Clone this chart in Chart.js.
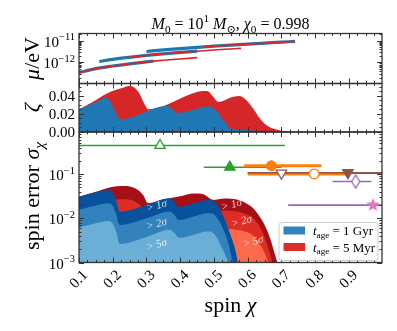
<!DOCTYPE html>
<html><head><meta charset="utf-8">
<script src="https://cdn.jsdelivr.net/npm/chart.js@4.4.1/dist/chart.umd.min.js"></script>
<style>html,body{margin:0;padding:0;background:#fff;}canvas{display:block;}</style>
</head><body>
<canvas id="c" width="397" height="331"></canvas>
<script>
// ---------- DATA ----------
// top panel: boson mass ranges mu(chi) for three modes
const chiA = [0.10,0.15,0.20,0.25,0.30,0.32,0.35,0.40,0.45];
const muA  = [3.47e-13,5.25e-13,6.92e-13,8.71e-13,1.07e-12,1.15e-12,1.26e-12,1.45e-12,1.66e-12];
const chiB = [0.16,0.20,0.24,0.30,0.35,0.40,0.45,0.50,0.55,0.58];
const muB  = [1.11e-12,1.39e-12,1.68e-12,2.12e-12,2.49e-12,2.88e-12,3.28e-12,3.70e-12,4.14e-12,4.42e-12];
const chiC = [0.30,0.35,0.40,0.45,0.47,0.50,0.55,0.60,0.65,0.70,0.74];
const muC  = [3.18e-12,3.74e-12,4.32e-12,4.92e-12,5.16e-12,5.55e-12,6.21e-12,6.90e-12,7.64e-12,8.45e-12,9.16e-12];
const blueRanges = [[0.10,0.32],[0.16,0.45],[0.30,0.74]];   // t_age = 1 Gyr
const redRanges  = [[0.10,0.45],[0.24,0.58],[0.47,0.74]];   // t_age = 5 Myr

// middle panel: zeta(chi)
const zetaChiBlue = [0.10,0.13,0.16,0.177,0.19,0.20,0.21,0.222,0.36,0.37,0.38,0.394,0.44,0.478,0.49,0.50,0.51,0.517,0.53,0.54,0.547,0.57,0.62,0.68,0.72,0.73];
const zetaBlue    = [0.025,0.030,0.0345,0.038,0.035,0.028,0.020,0.0138,0.0286,0.027,0.024,0.021,0.0245,0.028,0.0278,0.026,0.022,0.0186,0.012,0.007,0.004,0.0025,0.0015,0.001,0.0004,0];
const zetaChiRed  = [0.10,0.14,0.177,0.21,0.235,0.246,0.26,0.27,0.28,0.29,0.30,0.305,0.452,0.47,0.482,0.495,0.513,0.557,0.577,0.596,0.616,0.636,0.656,0.675,0.70,0.725];
const zetaRed     = [0.025,0.033,0.0414,0.0465,0.0495,0.0508,0.050,0.047,0.042,0.034,0.027,0.025,0.0444,0.0452,0.045,0.040,0.0333,0.039,0.0397,0.035,0.026,0.0149,0.0074,0.0038,0.0015,0];

// bottom panel: exclusion bands sigma_chi(chi)
const bChi1 = [0.10,0.15,0.187,0.20,0.21,0.221,0.30,0.369,0.38,0.397,0.44,0.48,0.495,0.51,0.522,0.542,0.562,0.572];
const blue1 = [0.0309,0.0389,0.0437,0.0380,0.0251,0.0141,0.0200,0.0285,0.0251,0.0182,0.0219,0.0260,0.0257,0.0200,0.0141,0.00589,0.00209,0.00089];
const bChi2 = [0.10,0.15,0.187,0.20,0.21,0.221,0.30,0.369,0.38,0.397,0.44,0.48,0.495,0.51,0.522,0.542,0.557];
const blue2 = [0.0155,0.0195,0.0219,0.0191,0.0126,0.00708,0.0100,0.0143,0.0126,0.00912,0.0110,0.0130,0.0129,0.0100,0.00708,0.00282,0.00089];
const bChi5 = [0.10,0.15,0.187,0.20,0.21,0.221,0.30,0.369,0.38,0.397,0.44,0.48,0.495,0.51,0.522,0.535,0.544];
const blue5 = [0.00617,0.00776,0.00871,0.00759,0.00501,0.00263,0.00380,0.00550,0.00490,0.00363,0.00427,0.00501,0.00479,0.00355,0.00224,0.00141,0.00089];
const rChi1 = [0.10,0.15,0.19,0.236,0.266,0.29,0.305,0.345,0.40,0.44,0.47,0.497,0.53,0.57,0.60,0.616,0.645,0.665,0.68,0.69];
const red1  = [0.0309,0.0398,0.0501,0.0542,0.0479,0.0339,0.0219,0.0263,0.0316,0.0363,0.0347,0.0263,0.0282,0.0263,0.0209,0.0170,0.00832,0.00380,0.00158,0.00089];
const rChi2 = [0.10,0.15,0.19,0.236,0.266,0.29,0.305,0.345,0.40,0.44,0.47,0.497,0.53,0.57,0.60,0.616,0.63,0.641,0.65,0.66,0.675];
const red2  = [0.0155,0.0200,0.0251,0.0269,0.0240,0.0170,0.0110,0.0132,0.0158,0.0182,0.0174,0.0132,0.0151,0.0141,0.0120,0.0100,0.00759,0.00537,0.00380,0.00226,0.00089];
const rChi5 = [0.10,0.15,0.19,0.236,0.266,0.29,0.305,0.345,0.40,0.44,0.47,0.497,0.53,0.577,0.606,0.62,0.631,0.645,0.655,0.663];
const red5  = [0.00617,0.00794,0.0100,0.0107,0.00955,0.00676,0.00437,0.00525,0.00631,0.00724,0.00692,0.00525,0.00575,0.00537,0.00457,0.00380,0.00295,0.00200,0.00135,0.00089];

// bottom panel: measured black holes (chi, sigma, chi range)
const obsChi   = [0.34, 0.547, 0.670, 0.700, 0.797, 0.897, 0.920, 0.971];
const obsSigma = [0.446, 0.144, 0.155, 0.105, 0.101, 0.108, 0.068, 0.020];
const obsLo    = [0.05, 0.47, 0.59, 0.60, 0.60, 0.60, 0.851, 0.72];
const obsHi    = [0.71, 0.70, 0.818, 1.05, 0.90, 1.05, 0.967, 1.05];

// ticks / labels
const xTickLabels = ['0.1','0.2','0.3','0.4','0.5','0.6','0.7','0.8','0.9'];
const zetaTickLabels = ['0.00','0.02','0.04'];
const muTickExps = [-11,-12];
const sigTickExps = [-1,-2,-3];
const bandLabels = ['> 1σ','> 2σ','> 5σ'];
const blueLabelChi = [0.33,0.33,0.33], blueLabelSig = [0.019,0.0073,0.0025];
const redLabelChi  = [0.552,0.582,0.616], redLabelSig = [0.020,0.0084,0.0029];

// ---------- helpers ----------
const FF = '"Liberation Serif","DejaVu Serif",serif';
const fnt = (s,it)=> (it?'italic ':'') + s + 'px ' + FF;
const pts = (xs, ys) => xs.map((x,i)=>({x, y: ys[i]}));
const inRange = (arr, r) => arr.filter(p => p.x >= r[0]-1e-9 && p.x <= r[1]+1e-9);

function segWidth(ctx, segs, size){ let w=0; for(const s of segs){ const fs=(s.sub||s.sup)?size*0.7:size; ctx.font=fnt(fs,s.it); w+=ctx.measureText(s.t).width; } return w; }
function drawSegs(ctx, segs, x, y, size, align){
  const w=segWidth(ctx,segs,size);
  let cx = align==='center'? x-w/2 : align==='right'? x-w : x;
  ctx.textAlign='left'; ctx.textBaseline='alphabetic';
  for(const s of segs){ const fs=(s.sub||s.sup)?size*0.7:size; ctx.font=fnt(fs,s.it);
    const dy = s.sub? size*0.22 : s.sup? -size*0.42 : 0;
    ctx.fillText(s.t, cx, y+dy); cx+=ctx.measureText(s.t).width; }
}
function starCanvas(r, fill){
  const c=document.createElement('canvas'); c.width=c.height=2*r+2;
  const g=c.getContext('2d'); g.translate(r+1,r+1); g.beginPath();
  for(let k=0;k<10;k++){ const a=-Math.PI/2+k*Math.PI/5; const rr=k%2? r*0.45:r; g.lineTo(rr*Math.cos(a),rr*Math.sin(a)); }
  g.closePath(); g.fillStyle=fill; g.fill(); return c;
}
function diamondCanvas(w,h,stroke){
  const c=document.createElement('canvas'); c.width=w+4; c.height=h+4;
  const g=c.getContext('2d'); g.translate(c.width/2,c.height/2); g.beginPath();
  g.moveTo(0,-h/2); g.lineTo(w/2,0); g.lineTo(0,h/2); g.lineTo(-w/2,0); g.closePath();
  g.fillStyle='#fff'; g.fill(); g.lineWidth=1.3; g.strokeStyle=stroke; g.stroke(); return c;
}

// ---------- datasets (listed bottom-to-top draw order) ----------
const ds = [];
const C = {blue:'#1f77b4', red:'#d62728',
  b1:'#08519c', b2:'#3182bd', b5:'#6baed6', r1:'#a50f15', r2:'#de2d26', r5:'#fb6a4a',
  green:'#2ca02c', orange:'#ff7f0e', brown:'#8c564b', purple:'#9467bd', pink:'#e377c2'};
function area(x,y,col,axis,fill){ ds.push({data:pts(x,y), yAxisID:axis, xAxisID:'x', fill, backgroundColor:col, borderColor:'rgba(0,0,0,0)', borderWidth:0, pointRadius:0, cubicInterpolationMode:'monotone'}); }
// middle panel
area(zetaChiRed, zetaRed, C.red, 'yZeta', 'origin');
area(zetaChiBlue, zetaBlue, C.blue, 'yZeta', 'origin');
// bottom panel bands
area(rChi1, red1, C.r1, 'ySig', 'start');
area(rChi2, red2, C.r2, 'ySig', 'start');
area(rChi5, red5, C.r5, 'ySig', 'start');
area(bChi1, blue1, C.b1, 'ySig', 'start');
area(bChi2, blue2, C.b2, 'ySig', 'start');
area(bChi5, blue5, C.b5, 'ySig', 'start');
// top panel lines
const muSets = [[chiA,muA],[chiB,muB],[chiC,muC]];
muSets.forEach((s,i)=> ds.push({data:inRange(pts(s[0],s[1]), blueRanges[i]), yAxisID:'yMu', xAxisID:'x', borderColor:C.blue, borderWidth:3.2, pointRadius:0, fill:false, cubicInterpolationMode:'monotone', borderCapStyle:'butt'}));
muSets.forEach((s,i)=> ds.push({data:inRange(pts(s[0],s[1]), redRanges[i]), yAxisID:'yMu', xAxisID:'x', borderColor:C.red, borderWidth:1.6, pointRadius:0, fill:false, cubicInterpolationMode:'monotone', borderCapStyle:'butt'}));
// measurement error bars
const obsLineCol = [C.green, C.green, C.orange, C.brown, C.orange, C.brown, C.purple, C.purple];
const obsLineW   = [1.5, 1.5, 3, 1.4, 3, 1.4, 1.4, 1.8];
obsChi.forEach((c,i)=> ds.push({data:[{x:obsLo[i],y:obsSigma[i]},{x:obsHi[i],y:obsSigma[i]}], yAxisID:'ySig', xAxisID:'x', borderColor:obsLineCol[i], borderWidth:obsLineW[i], pointRadius:0, fill:false}));
// markers
const mk = [
  {style:'triangle', r:6, bg:'#fff', bc:C.green, rot:0},
  {style:'triangle', r:6, bg:C.green, bc:C.green, rot:0},
  {style:'circle', r:4.8, bg:C.orange, bc:C.orange, rot:0},
  {style:'triangle', r:6, bg:'#fff', bc:C.brown, rot:180},
  {style:'circle', r:4.8, bg:'#fff', bc:C.orange, rot:0},
  {style:'triangle', r:6, bg:C.brown, bc:C.brown, rot:180},
  {style:diamondCanvas(8,13,C.purple), r:6, bg:'#fff', bc:C.purple, rot:0},
  {style:starCanvas(7,C.pink), r:7, bg:C.pink, bc:C.pink, rot:0}
];
obsChi.forEach((c,i)=> ds.push({data:[{x:c,y:obsSigma[i]}], yAxisID:'ySig', xAxisID:'x', showLine:false, pointStyle:mk[i].style, pointRadius:mk[i].r, pointRotation:mk[i].rot, pointBackgroundColor:mk[i].bg, pointBorderColor:mk[i].bc, pointBorderWidth:1.3}));
ds.forEach((d,i)=>{ d.order = ds.length - i; });

// ---------- decoration plugin ----------
const deco = {
  id:'deco',
  afterDatasetsDraw(chart){
    const ctx=chart.ctx, xs=chart.scales.x;
    const L=xs.left, R=xs.right;
    const panels=[chart.scales.yMu, chart.scales.yZeta, chart.scales.ySig];
    ctx.save();
    // band labels
    ctx.fillStyle='rgba(255,255,255,0.8)';
    const ys=chart.scales.ySig;
    const lab=(x,y,t)=>{ ctx.save(); ctx.translate(xs.getPixelForValue(x), ys.getPixelForValue(y)); ctx.rotate(-0.26); ctx.font=fnt(11,true); ctx.textAlign='center'; ctx.textBaseline='middle'; ctx.fillText(t,0,0); ctx.restore(); };
    bandLabels.forEach((t,i)=>{ lab(blueLabelChi[i],blueLabelSig[i],t); lab(redLabelChi[i],redLabelSig[i],t); });
    // frames and ticks
    ctx.strokeStyle='#333'; ctx.lineWidth=1;
    const xMaj = xTickLabels.map(parseFloat);
    const xMin=[]; for(let v=0.1; v<xs.max; v+=0.025){ xMin.push(+v.toFixed(3)); }
    panels.forEach(p=>{
      ctx.beginPath();
      xMin.forEach(v=>{ const px=Math.round(xs.getPixelForValue(v))+0.5; const isMaj=xMaj.some(m=>Math.abs(m-v)<1e-6); const len=isMaj?5:2.5;
        ctx.moveTo(px,p.top); ctx.lineTo(px,p.top+len); ctx.moveTo(px,p.bottom); ctx.lineTo(px,p.bottom-len); });
      let yt=[];
      if(p.type==='logarithmic'){
        for(let e=Math.floor(Math.log10(p.min)); e<=Math.ceil(Math.log10(p.max)); e++) for(let k=1;k<=9;k++){ const v=k*Math.pow(10,e); if(v>=p.min*0.999 && v<=p.max*1.001) yt.push([v,k===1]); }
      } else {
        for(let v=0; v<=p.max+1e-9; v+=0.005) yt.push([v, Math.abs(v/0.02-Math.round(v/0.02))<1e-6]);
      }
      yt.forEach(([v,maj])=>{ const py=Math.round(p.getPixelForValue(v))+0.5; const len=maj?5:2.5;
        ctx.moveTo(L,py); ctx.lineTo(L+len,py); ctx.moveTo(R,py); ctx.lineTo(R-len,py); });
      ctx.stroke();
      ctx.lineWidth=1.3; ctx.strokeRect(L, p.top, R-L, p.bottom-p.top); ctx.lineWidth=1;
    });
    ctx.restore();
  },
  afterDraw(chart){
    const ctx=chart.ctx, xs=chart.scales.x;
    const L=xs.left, R=xs.right;
    const yMu=chart.scales.yMu, yZ=chart.scales.yZeta, yS=chart.scales.ySig;
    ctx.save(); ctx.fillStyle='#000';
    // y tick labels
    muTickExps.forEach(e=> drawSegs(ctx,[{t:'10'},{t:'−'+Math.abs(e),sup:true}], L-4, yMu.getPixelForValue(Math.pow(10,e))+6, 15, 'right'));
    zetaTickLabels.forEach(t=> drawSegs(ctx,[{t}], L-4, yZ.getPixelForValue(parseFloat(t))+5, 15, 'right'));
    sigTickExps.forEach(e=> drawSegs(ctx,[{t:'10'},{t:'−'+Math.abs(e),sup:true}], L-4, yS.getPixelForValue(Math.pow(10,e))+6, 15, 'right'));
    // x tick labels (rotated 45)
    xTickLabels.forEach(t=>{ ctx.save(); ctx.translate(xs.getPixelForValue(parseFloat(t)), yS.bottom+17); ctx.rotate(-Math.PI/4); ctx.font=fnt(15); ctx.textAlign='center'; ctx.textBaseline='middle'; ctx.fillText(t,0,0); ctx.restore(); });
    // axis labels
    const rotLab=(segs,x,y,size)=>{ ctx.save(); ctx.translate(x,y); ctx.rotate(-Math.PI/2); drawSegs(ctx,segs,0,size*0.35,size,'center'); ctx.restore(); };
    rotLab([{t:'μ',it:true},{t:'/eV'}], 31, (yMu.top+yMu.bottom)/2, 22);
    rotLab([{t:'ζ',it:true}], 31, (yZ.top+yZ.bottom)/2, 22);
    rotLab([{t:'spin error '},{t:'σ',it:true},{t:'χ',it:true,sub:true}], 31, 196, 22);
    drawSegs(ctx,[{t:'spin '},{t:'χ',it:true}], (L+R)/2, 312, 22, 'center');
    // title
    drawSegs(ctx,[{t:'M',it:true},{t:'0',sub:true},{t:' = 10'},{t:'1',sup:true},{t:' '},{t:'M',it:true},{t:'⊙',sub:true},{t:', '},{t:'χ',it:true},{t:'0',sub:true},{t:' = 0.998'}], (L+R)/2, 29, 16, 'center');
    // legend
    const lx=279, ly=222.5, lw=99, lh=38;
    ctx.beginPath(); if(ctx.roundRect) ctx.roundRect(lx,ly,lw,lh,3); else ctx.rect(lx,ly,lw,lh);
    ctx.fillStyle='rgba(255,255,255,0.85)'; ctx.fill(); ctx.strokeStyle='#cccccc'; ctx.lineWidth=1; ctx.stroke();
    ctx.fillStyle=C.b2; ctx.fillRect(283.5,226.5,21.5,8);
    ctx.fillStyle=C.r2; ctx.fillRect(283.5,243,21.5,8);
    ctx.fillStyle='#000';
    drawSegs(ctx,[{t:'t',it:true},{t:'age',sub:true},{t:' = 1 Gyr'}], 313, 235, 13, 'left');
    drawSegs(ctx,[{t:'t',it:true},{t:'age',sub:true},{t:' = 5 Myr'}], 313, 251.5, 13, 'left');
    ctx.restore();
  }
};

const hide = { ticks:{display:false}, grid:{display:false}, border:{display:false} };
new Chart(document.getElementById('c'), {
  type:'line',
  data:{ datasets: ds },
  options:{
    responsive:false, animation:false, devicePixelRatio:1,
    layout:{ padding:{ left:79, right:15, top:33.5, bottom:68.5 } },
    plugins:{ legend:{display:false}, tooltip:{enabled:false}, title:{display:false} },
    scales:{
      x:   Object.assign({ type:'linear', min:0.1, max:0.998, position:'bottom', afterFit:s=>{s.height=0;} }, hide),
      yMu: Object.assign({ type:'logarithmic', min:1.1e-13, max:2.1e-11, position:'left', stack:'p', stackWeight:50, weight:3, afterFit:s=>{s.width=0;} }, hide),
      yZeta: Object.assign({ type:'linear', min:0, max:0.0535, position:'left', stack:'p', stackWeight:48.5, weight:2, afterFit:s=>{s.width=0;} }, hide),
      ySig: Object.assign({ type:'logarithmic', min:1e-3, max:0.9, position:'left', stack:'p', stackWeight:130.5, weight:1, afterFit:s=>{s.width=0;} }, hide)
    }
  },
  plugins:[deco]
});
</script>
</body></html>
